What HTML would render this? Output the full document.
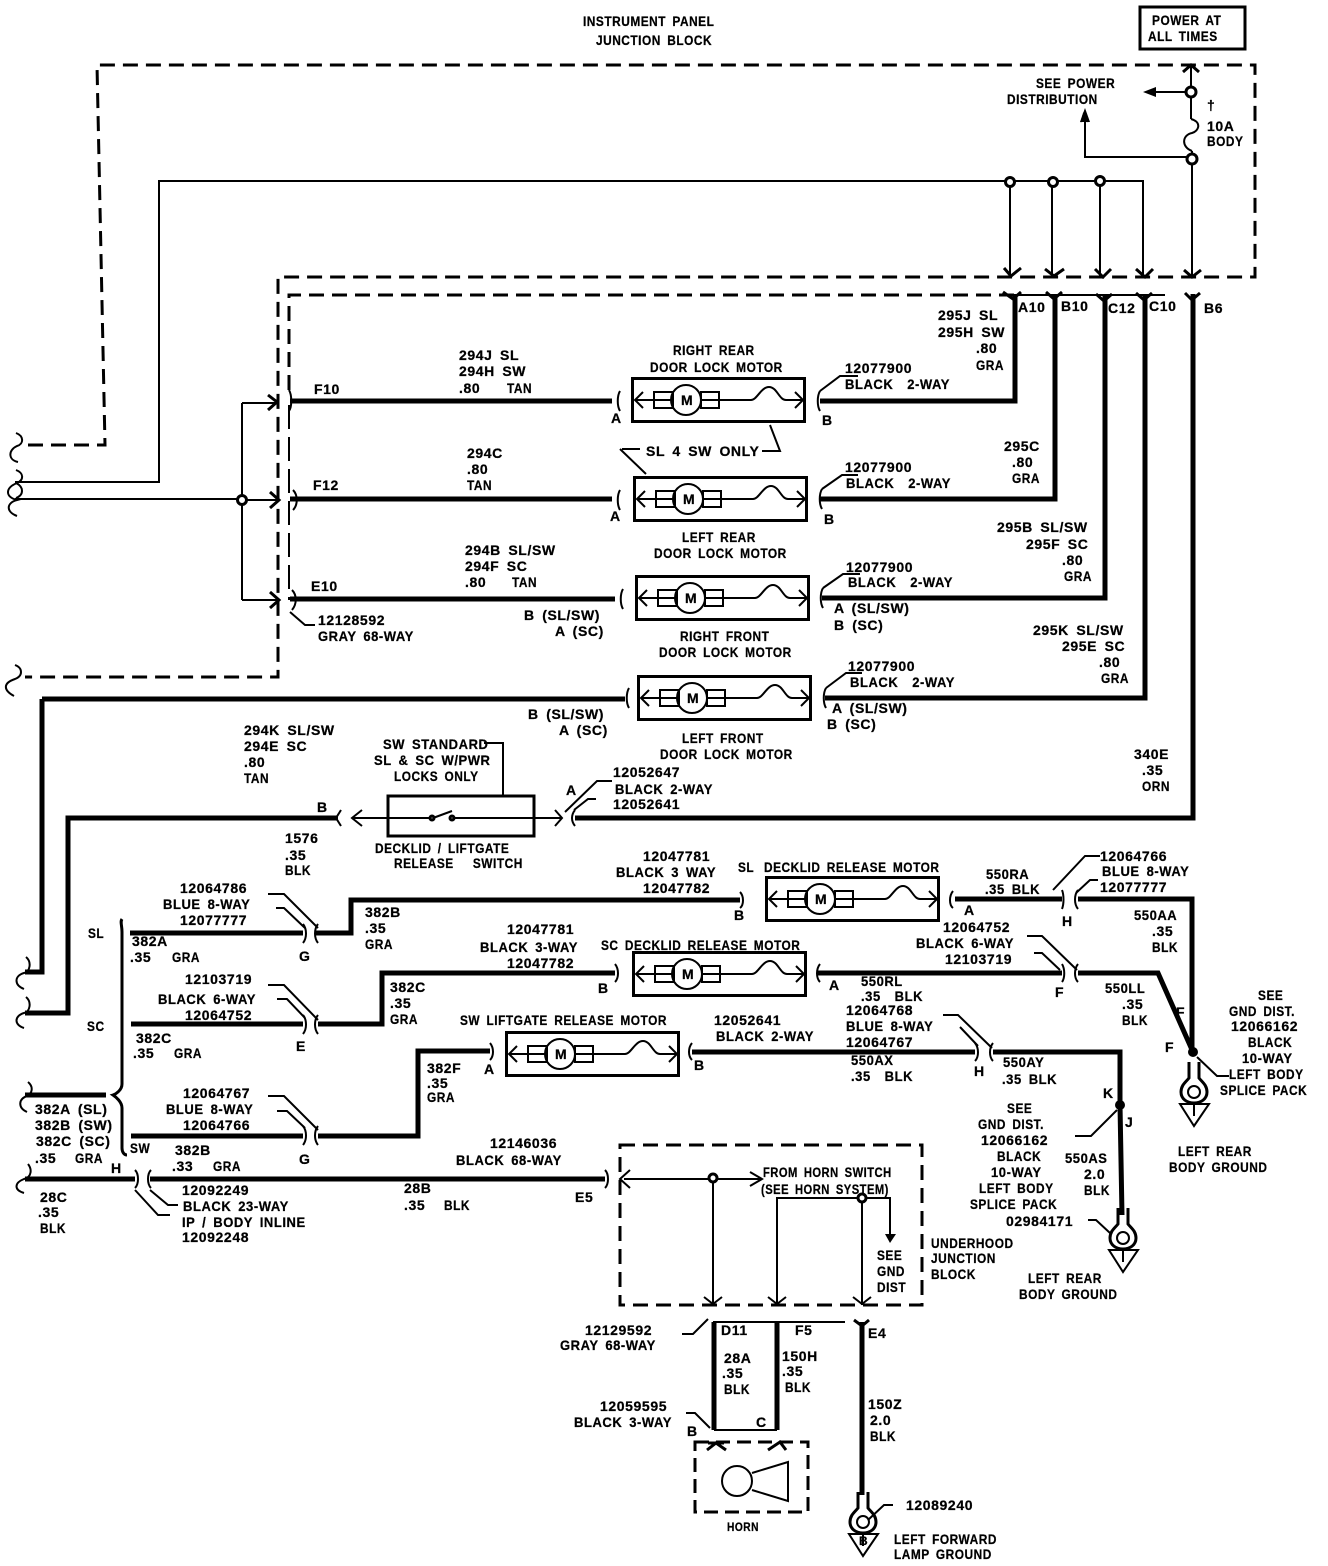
<!DOCTYPE html>
<html><head><meta charset="utf-8"><style>
html,body{margin:0;padding:0;background:#fff}
svg{display:block}
text{font-family:"Liberation Sans",sans-serif;font-weight:bold;font-size:14px;letter-spacing:.6px;word-spacing:3px;white-space:pre;fill:#000;stroke:#000;stroke-width:.25px;transform-box:fill-box;transform-origin:0 50%}
text.a{transform:scaleX(.85)}
text.b{transform:scaleX(.93)}
text.c{transform:scaleX(.8)}
.w{fill:none;stroke:#000;stroke-width:5}
.m{fill:none;stroke:#000;stroke-width:3}
.t{fill:none;stroke:#000;stroke-width:2}
.d{fill:none;stroke:#000;stroke-width:3;stroke-dasharray:15 8}
.j{fill:#fff;stroke:#000;stroke-width:3}
</style></head><body>
<svg width="1328" height="1566" viewBox="0 0 1328 1566" xmlns="http://www.w3.org/2000/svg">
<defs>
<g id="motor">
<rect class="m" x="1.5" y="1.5" width="172" height="43"/>
<path class="t" d="M4 23H23M41 23H24M71 23H87M87 23H120C126 23 130 10 138 10C146 10 148 23 155 23H171"/>
<path class="t" d="M12 15L4 23L12 31M164 15L172 23L164 31"/>
<rect class="t" x="23" y="15" width="19" height="16" fill="#fff"/>
<rect class="t" x="70" y="15" width="18" height="16" fill="#fff"/>
<circle class="t" cx="55" cy="23" r="15" fill="#fff"/>
</g>
<g id="gnd">
<path class="m" d="M-5 -30V-14C-8 -10 -13 -7 -13 0C-13 7 -7 11 0 11C7 11 13 7 13 0C13 -7 8 -10 5 -14V-30" fill="#fff"/>
<circle class="t" cx="0" cy="0" r="6" fill="#fff"/>
<path class="t" d="M-14 12H15L0 34ZM0 12V24"/>
</g>
</defs>

<!-- dashed blocks -->
<path class="d" d="M28 445H105L97 65H1255V277H278V677H25"/>
<path class="d" stroke-width="2.5" d="M289 390V295H1015"/>
<path class="d" style="stroke-width:2;stroke-dasharray:24 8" d="M289 405V600"/>
<path class="t" d="M1015 295H1165"/>
<rect class="d" x="620" y="1145" width="302" height="160"/>
<rect class="d" x="695" y="1442" width="113" height="70" style="stroke-dasharray:14 7"/>

<!-- power box -->
<rect x="1140" y="7" width="105" height="42" fill="none" stroke="#000" stroke-width="3"/>

<!-- thin wires top -->
<path class="t" d="M15 482H159V181H1143V278"/>
<path class="t" d="M15 499H242M242 403V600M242 403H276M242 500H278M242 600H278"/>
<path class="t" d="M1010 181V276M1052 181V276M1100 181V276"/>
<path class="t" d="M1191 66V119M1192 151V277M1191 92H1146M1192 157H1085V114"/>
<path class="t" d="M1191 119C1202 122 1199 131 1192 133C1182 135 1181 147 1192 151"/>
<path class="m" d="M1183 72L1191 65L1199 72"/>
<path d="M1143 92L1156 87V97Z"/>
<path d="M1085 108L1080 122H1090Z"/>
<path class="m" d="M1004 268L1011 276L1021 268M1045 269L1054 276L1064 269M1095 269L1103 277L1111 269M1136 269L1145 277L1153 269M1184 270L1192 277L1201 270"/>
<path class="m" d="M1003 292L1013 299L1021 292M1046 292L1054 299L1062 292M1096 294L1104 301L1112 294M1136 293L1144 300L1152 293M1185 293L1192 300L1200 293"/>
<path class="m" d="M268 395L277 402L268 410M270 492L279 500L270 508M270 592L279 600L270 608"/>
<circle class="j" cx="1191" cy="92" r="5"/><circle class="j" cx="1192" cy="159" r="5"/>
<circle class="j" cx="1010" cy="182" r="4.5"/><circle class="j" cx="1053" cy="182" r="4.5"/><circle class="j" cx="1100" cy="181" r="4.5"/>
<circle class="j" cx="242" cy="500" r="4.5"/>

<!-- left breaks -->
<path class="t" d="M16 433C24 436 24 444 17 446C8 450 8 460 18 462M16 470C24 473 24 480 17 483C5 488 5 497 17 500C6 503 6 512 17 516M16 483C24 487 24 495 16 498M15 665C23 668 23 676 15 679C3 683 3 690 14 696M26 957C32 962 30 972 24 973C14 976 14 985 24 989M26 997C32 1002 30 1012 24 1013C14 1016 14 1025 24 1028M28 1082C34 1087 32 1094 27 1096C18 1099 18 1108 27 1112M28 1164C32 1169 32 1177 24 1179C14 1183 14 1190 24 1193"/>

<!-- thick wires -->
<path class="w" d="M290 401H612M290 499H612M290 599H615M42 699H625M25 972H42V699M25 1013H68V818H338"/>
<path class="w" d="M820 401H1015V294M820 499H1055V294M822 598H1105V294M825 698H1145V294M575 818H1193V294"/>
<path class="w" d="M130 933H303M316 933H351V900H740M131 1024H303M318 1024H382V973H615M131 1136H303M318 1136H418V1051H490"/>
<path class="w" d="M25 1095H106M25 1179H135M150 1179H605"/>
<path class="w" d="M818 973H1062M1078 973H1158L1193 1052M955 899H1062M1078 899H1192V1052M692 1052H975M993 1052H1120V1105L1122 1215"/>
<path class="w" d="M714 1322V1430M777 1322V1430M862 1322V1495"/>
<path class="m" d="M122 919C120 922 122 925 122 932V1084C122 1090 116 1094 113 1095C116 1097 122 1102 122 1108V1148C122 1152 124 1155 127 1155"/>
<path class="t" d="M714 1430H777"/>

<!-- connector ticks -->
<path class="t" d="M289 390C292 395 292 407 289 411M293 490C298 495 298 505 293 510M292 590C297 595 297 604 292 610M620 391C617 396 617 406 620 411M620 490C617 495 617 505 620 510M623 589C620 594 620 604 623 609M629 688C626 693 626 703 629 708M820 391C817 396 817 406 820 411M822 489C819 494 819 504 822 509M823 588C820 593 820 603 823 608M826 688C823 693 823 703 826 708"/>
<path class="t" d="M341 810L336 818L341 826M575 810C571 815 571 821 575 826M303 924C307 929 307 938 303 943M318 924C314 929 314 938 318 943M303 1015C307 1020 307 1029 303 1034M318 1015C314 1020 314 1029 318 1034M303 1126C307 1131 307 1140 303 1145M318 1126C314 1131 314 1140 318 1145"/>
<path class="t" d="M135 1170C139 1174 139 1184 135 1188M151 1170C147 1174 147 1184 151 1188M740 892C744 896 744 905 740 908M953 891C949 896 949 905 953 908M1062 890C1064 895 1064 904 1062 909M1078 890C1074 895 1074 904 1078 909M1062 964C1065 969 1065 978 1062 982M1078 964C1074 969 1074 978 1078 982M615 964C619 969 619 978 615 982M820 964C816 969 816 978 820 982M975 1043C979 1048 979 1057 975 1061M993 1043C989 1048 989 1057 993 1061M490 1043C494 1048 494 1056 490 1060M692 1043C688 1048 688 1056 692 1060M605 1170C609 1174 609 1184 605 1188"/>

<!-- motors -->
<use href="#motor" x="631" y="377"/><use href="#motor" x="633" y="476"/><use href="#motor" x="635" y="575"/><use href="#motor" x="637" y="675"/>
<use href="#motor" x="765" y="876"/><use href="#motor" x="632" y="951"/><use href="#motor" x="505" y="1031"/>

<!-- switch -->
<rect class="m" x="388" y="796" width="146" height="40"/>
<path class="t" d="M352 818H432M452 818H562M362 810L352 818L362 826M555 810L562 818L555 826M433 818L452 811"/>
<circle class="j" cx="432" cy="818" r="2"/><circle class="j" cx="452" cy="818" r="2"/>
<path class="t" d="M484 743H503V796"/>

<!-- leaders -->
<path class="t" d="M820 391L840 376H858M822 489L842 475H858M823 588L843 574H860M826 688L846 673H862"/>
<path class="t" d="M622 449H640M620 449L646 474M770 425L780 451H762"/>
<path class="t" d="M290 612L305 625H315"/>
<path class="t" d="M565 812L597 781H612M574 810L588 799H596"/>
<path class="t" d="M268 894H284L318 928M276 908H284L305 928M268 985H284L318 1020M277 999H287L305 1018M268 1096H284L318 1130M277 1111H287L305 1128"/>
<path class="t" d="M1053 890L1085 856H1100M1076 893L1090 880H1098M1027 936H1042L1077 970M1034 953H1042L1060 970M943 1015H958L992 1048M960 1027L978 1046"/>
<path class="t" d="M135 1190L158 1215H170M150 1190L168 1205H178"/>
<path class="t" d="M1197 1057L1217 1076H1229M1117 1110L1091 1136H1075M1088 1220H1096L1110 1233"/>
<path class="t" d="M682 1334H693L708 1319M713 1322H845M686 1413H695L710 1428M868 1520L884 1505H893"/>
<path class="m" d="M854 1320L862 1326L869 1320"/>

<!-- junction block inner -->
<path class="t" d="M624 1179H762M713 1179V1305M777 1305V1198H890V1240M862 1198V1305"/>
<path class="t" d="M630 1170L620 1179L630 1188M750 1172L762 1179L750 1186M704 1297L713 1304L722 1297M768 1297L777 1304L786 1297M853 1297L862 1304L871 1297"/>
<path d="M885 1234H896L890 1243Z"/>
<circle class="j" cx="713" cy="1178" r="4"/><circle class="j" cx="862" cy="1198" r="4"/>

<!-- horn -->
<circle class="t" cx="737" cy="1481" r="15"/>
<path class="t" d="M752 1473L788 1462V1501L752 1490"/>
<path class="m" d="M707 1450L716 1443L726 1450M708 1443H724M768 1450L780 1442L786 1450"/>

<!-- grounds -->
<use href="#gnd" x="1194" y="1092"/><use href="#gnd" x="1123" y="1238"/><use href="#gnd" x="863" y="1522"/>
<circle cx="1193" cy="1052" r="5"/><circle cx="1120" cy="1105" r="5"/>

<!-- M labels -->
<g style="font-size:13px">
<text x="681" y="405">M</text><text x="683" y="504">M</text><text x="685" y="603">M</text><text x="687" y="703">M</text><text x="815" y="904">M</text><text x="682" y="979">M</text><text x="555" y="1059">M</text>
</g>

<!-- text -->
<text class="a" x="583" y="26">INSTRUMENT PANEL</text><text class="a" x="596" y="45">JUNCTION BLOCK</text>
<text class="a" x="1152" y="25">POWER AT</text><text class="a" x="1148" y="41">ALL TIMES</text>
<text class="a" x="1036" y="88">SEE POWER</text><text class="a" x="1007" y="104">DISTRIBUTION</text><text class="a" x="1080" y="122">A</text>
<text x="1207" y="110">†</text><text x="1207" y="131">10A</text><text class="a" x="1207" y="146">BODY</text>
<text x="1018" y="312">A10</text><text x="1061" y="311">B10</text><text x="1108" y="313">C12</text><text x="1149" y="311">C10</text><text x="1204" y="313">B6</text>
<text x="938" y="320">295J SL</text><text x="938" y="337">295H SW</text><text x="976" y="353">.80</text><text class="a" x="976" y="370">GRA</text>
<text x="459" y="360">294J SL</text><text x="459" y="376">294H SW</text><text x="459" y="393">.80</text><text class="a" x="507" y="393">TAN</text>
<text x="314" y="394">F10</text><text x="313" y="490">F12</text><text x="311" y="591">E10</text>
<text class="a" x="673" y="355">RIGHT REAR</text><text class="a" x="650" y="372">DOOR LOCK MOTOR</text>
<text x="845" y="373">12077900</text><text class="b" x="845" y="389">BLACK  2-WAY</text>
<text x="611" y="423">A</text><text x="822" y="425">B</text>
<text x="646" y="456">SL 4 SW ONLY</text>
<text x="845" y="472">12077900</text><text class="b" x="846" y="488">BLACK  2-WAY</text>
<text x="1004" y="451">295C</text><text x="1012" y="467">.80</text><text class="a" x="1012" y="483">GRA</text>
<text x="467" y="458">294C</text><text x="467" y="474">.80</text><text class="a" x="467" y="490">TAN</text>
<text x="610" y="521">A</text><text x="824" y="524">B</text>
<text class="a" x="682" y="542">LEFT REAR</text><text class="a" x="654" y="558">DOOR LOCK MOTOR</text>
<text x="997" y="532">295B SL/SW</text><text x="1026" y="549">295F SC</text><text x="1062" y="565">.80</text><text class="a" x="1064" y="581">GRA</text>
<text x="465" y="555">294B SL/SW</text><text x="465" y="571">294F SC</text><text x="465" y="587">.80</text><text class="a" x="512" y="587">TAN</text>
<text x="846" y="572">12077900</text><text class="b" x="848" y="587">BLACK  2-WAY</text>
<text x="524" y="620">B (SL/SW)</text><text x="555" y="636">A (SC)</text>
<text x="834" y="613">A (SL/SW)</text><text x="834" y="630">B (SC)</text>
<text x="318" y="625">12128592</text><text class="b" x="318" y="641">GRAY 68-WAY</text>
<text class="a" x="680" y="641">RIGHT FRONT</text><text class="a" x="659" y="657">DOOR LOCK MOTOR</text>
<text x="1033" y="635">295K SL/SW</text><text x="1062" y="651">295E SC</text><text x="1099" y="667">.80</text><text class="a" x="1101" y="683">GRA</text>
<text x="848" y="671">12077900</text><text class="b" x="850" y="687">BLACK  2-WAY</text>
<text x="528" y="719">B (SL/SW)</text><text x="559" y="735">A (SC)</text>
<text x="832" y="713">A (SL/SW)</text><text x="827" y="729">B (SC)</text>
<text class="a" x="682" y="743">LEFT FRONT</text><text class="a" x="660" y="759">DOOR LOCK MOTOR</text>
<text x="244" y="735">294K SL/SW</text><text x="244" y="751">294E SC</text><text x="244" y="767">.80</text><text class="a" x="244" y="783">TAN</text>
<text class="b" x="383" y="749">SW STANDARD</text><text class="b" x="374" y="765">SL &amp; SC W/PWR</text><text class="a" x="394" y="781">LOCKS ONLY</text>
<text x="566" y="795">A</text><text x="613" y="777">12052647</text><text class="b" x="615" y="794">BLACK 2-WAY</text><text x="613" y="809">12052641</text>
<text x="317" y="812">B</text><text x="1134" y="759">340E</text><text x="1142" y="775">.35</text><text class="a" x="1142" y="791">ORN</text>
<text class="a" x="375" y="853">DECKLID / LIFTGATE</text><text class="a" x="394" y="868">RELEASE   SWITCH</text>
<text x="285" y="843">1576</text><text x="285" y="860">.35</text><text class="a" x="285" y="875">BLK</text>
<text x="643" y="861">12047781</text><text class="b" x="616" y="877">BLACK 3 WAY</text><text x="643" y="893">12047782</text>
<text class="a" x="738" y="872">SL</text><text class="a" x="764" y="872">DECKLID RELEASE MOTOR</text>
<text class="b" x="986" y="879">550RA</text><text class="b" x="985" y="894">.35 BLK</text><text x="964" y="915">A</text>
<text x="1100" y="861">12064766</text><text class="b" x="1102" y="876">BLUE 8-WAY</text><text x="1100" y="892">12077777</text>
<text x="1062" y="926">H</text><text x="734" y="920">B</text>
<text x="180" y="893">12064786</text><text class="b" x="163" y="909">BLUE 8-WAY</text><text x="180" y="925">12077777</text>
<text x="365" y="917">382B</text><text x="365" y="933">.35</text><text class="a" x="365" y="949">GRA</text>
<text class="b" x="1134" y="920">550AA</text><text x="1152" y="936">.35</text><text class="a" x="1152" y="952">BLK</text>
<text x="507" y="934">12047781</text><text class="b" x="480" y="952">BLACK 3-WAY</text><text x="507" y="968">12047782</text>
<text class="a" x="601" y="950">SC DECKLID RELEASE MOTOR</text>
<text x="943" y="932">12064752</text><text class="b" x="916" y="948">BLACK 6-WAY</text><text x="945" y="964">12103719</text>
<text class="a" x="88" y="938">SL</text><text x="132" y="946">382A</text><text x="130" y="962">.35</text><text class="a" x="172" y="962">GRA</text>
<text x="299" y="961">G</text><text x="598" y="993">B</text><text x="829" y="990">A</text>
<text class="b" x="861" y="986">550RL</text><text class="b" x="861" y="1001">.35  BLK</text><text x="1055" y="997">F</text>
<text x="185" y="984">12103719</text><text class="b" x="158" y="1004">BLACK 6-WAY</text><text x="185" y="1020">12064752</text>
<text x="390" y="992">382C</text><text x="390" y="1008">.35</text><text class="a" x="390" y="1024">GRA</text>
<text class="b" x="1105" y="993">550LL</text><text x="1122" y="1009">.35</text><text class="a" x="1122" y="1025">BLK</text>
<text class="a" x="1258" y="1000">SEE</text><text class="a" x="1229" y="1016">GND DIST.</text><text x="1231" y="1031">12066162</text><text class="a" x="1248" y="1047">BLACK</text><text class="b" x="1242" y="1063">10-WAY</text><text class="a" x="1229" y="1079">LEFT BODY</text><text class="a" x="1220" y="1095">SPLICE PACK</text>
<text x="1165" y="1052">F</text><text x="1176" y="1017">F</text>
<text class="a" x="87" y="1031">SC</text><text x="296" y="1051">E</text>
<text x="136" y="1043">382C</text><text x="133" y="1058">.35</text><text class="a" x="174" y="1058">GRA</text>
<text class="a" x="460" y="1025">SW LIFTGATE RELEASE MOTOR</text>
<text x="714" y="1025">12052641</text><text class="b" x="716" y="1041">BLACK 2-WAY</text><text x="694" y="1070">B</text><text x="484" y="1074">A</text>
<text x="846" y="1015">12064768</text><text class="b" x="846" y="1031">BLUE 8-WAY</text><text x="846" y="1047">12064767</text>
<text class="b" x="851" y="1065">550AX</text><text class="b" x="851" y="1081">.35  BLK</text><text x="974" y="1076">H</text>
<text class="b" x="1003" y="1067">550AY</text><text class="b" x="1002" y="1084">.35 BLK</text>
<text x="427" y="1073">382F</text><text x="427" y="1088">.35</text><text class="a" x="427" y="1102">GRA</text>
<text x="1103" y="1098">K</text><text x="1125" y="1127">J</text>
<text class="a" x="1007" y="1113">SEE</text><text class="a" x="978" y="1129">GND DIST.</text><text x="981" y="1145">12066162</text><text class="a" x="997" y="1161">BLACK</text><text class="b" x="991" y="1177">10-WAY</text><text class="a" x="979" y="1193">LEFT BODY</text><text class="a" x="970" y="1209">SPLICE PACK</text><text x="1006" y="1226">02984171</text>
<text class="b" x="1065" y="1163">550AS</text><text x="1084" y="1179">2.0</text><text class="a" x="1084" y="1195">BLK</text>
<text x="183" y="1098">12064767</text>
<text class="b" x="166" y="1114">BLUE 8-WAY</text>
<text x="183" y="1130">12064766</text>
<text x="35" y="1114">382A (SL)</text><text x="35" y="1130">382B (SW)</text><text x="36" y="1146">382C (SC)</text><text x="35" y="1163">.35</text><text class="a" x="75" y="1163">GRA</text>
<text class="a" x="130" y="1153">SW</text><text x="175" y="1155">382B</text><text x="172" y="1171">.33</text><text class="a" x="213" y="1171">GRA</text><text x="299" y="1164">G</text>
<text x="111" y="1173">H</text>
<text x="490" y="1148">12146036</text><text class="b" x="456" y="1165">BLACK 68-WAY</text><text x="575" y="1202">E5</text>
<text x="182" y="1195">12092249</text><text class="b" x="183" y="1211">BLACK 23-WAY</text><text class="b" x="182" y="1227">IP / BODY INLINE</text><text x="182" y="1242">12092248</text>
<text x="404" y="1193">28B</text><text x="404" y="1210">.35</text><text class="a" x="444" y="1210">BLK</text>
<text x="40" y="1202">28C</text><text x="38" y="1217">.35</text><text class="a" x="40" y="1233">BLK</text>
<text class="c" x="763" y="1177">FROM HORN SWITCH</text><text class="c" x="761" y="1194">(SEE HORN SYSTEM)</text>
<text class="a" x="877" y="1260">SEE</text><text class="a" x="877" y="1276">GND</text><text class="a" x="877" y="1292">DIST</text>
<text class="a" x="931" y="1248">UNDERHOOD</text><text class="a" x="931" y="1263">JUNCTION</text><text class="a" x="931" y="1279">BLOCK</text>
<text class="a" x="1028" y="1283">LEFT REAR</text><text class="a" x="1019" y="1299">BODY GROUND</text>
<text class="a" x="1178" y="1156">LEFT REAR</text><text class="a" x="1169" y="1172">BODY GROUND</text>
<text x="585" y="1335">12129592</text><text class="b" x="560" y="1350">GRAY 68-WAY</text>
<text x="721" y="1335">D11</text><text x="795" y="1335">F5</text><text x="868" y="1338">E4</text>
<text x="724" y="1363">28A</text><text x="722" y="1378">.35</text><text class="a" x="724" y="1394">BLK</text>
<text x="782" y="1361">150H</text><text x="782" y="1376">.35</text><text class="a" x="785" y="1392">BLK</text>
<text x="868" y="1409">150Z</text><text x="870" y="1425">2.0</text><text class="a" x="870" y="1441">BLK</text>
<text x="600" y="1411">12059595</text><text class="b" x="574" y="1427">BLACK 3-WAY</text>
<text x="687" y="1436">B</text><text x="756" y="1427">C</text>
<text class="a" x="727" y="1531" style="font-size:12px">HORN</text>
<text x="906" y="1510">12089240</text>
<text class="a" x="894" y="1544">LEFT FORWARD</text><text class="a" x="894" y="1559">LAMP GROUND</text>
<text x="859" y="1545" style="font-size:12px">B</text>
</svg>
</body></html>
